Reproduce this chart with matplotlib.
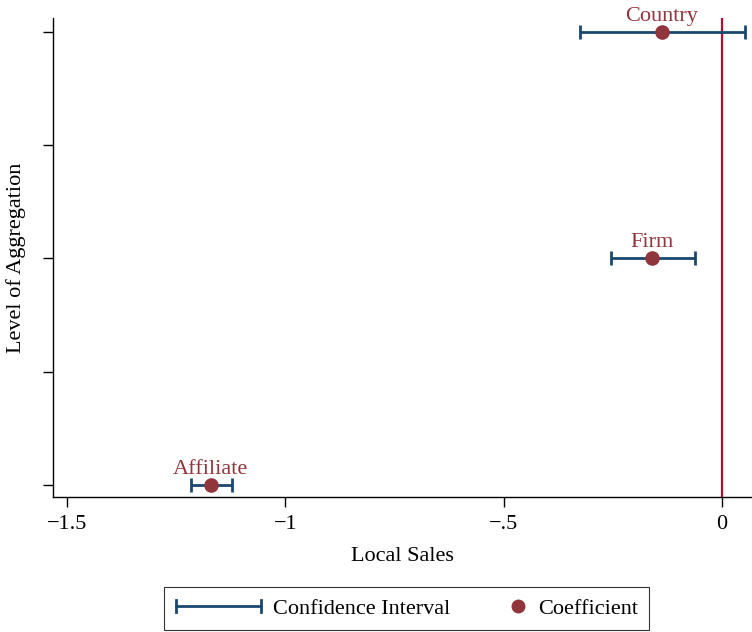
import numpy as np
import matplotlib.pyplot as plt
from matplotlib.lines import Line2D
from matplotlib.legend_handler import HandlerBase

plt.rcParams['font.family'] = ['Liberation Serif', 'DejaVu Serif']

levels = ['Affiliate', 'Firm', 'Country']
ypos = [1, 2, 3]
coef = [-1.171, -0.160, -0.137]
ci_lo = [-1.216, -0.254, -0.325]
ci_hi = [-1.123, -0.062, 0.053]

navy = '#1a476f'
maroon = '#90353b'
red = '#c10534'
fs = 16


class CIHandler(HandlerBase):
    def create_artists(self, legend, orig, xd, yd, w, h, fontsize, trans):
        y = h / 2 - yd
        c = 0.27 * fontsize
        arts = [Line2D([-xd, w - xd], [y, y], color=navy, lw=2)]
        for x in (-xd, w - xd):
            arts.append(Line2D([x, x], [y - c, y + c], color=navy, lw=2))
        for a in arts:
            a.set_transform(trans)
        return arts


class DotHandler(HandlerBase):
    def create_artists(self, legend, orig, xd, yd, w, h, fontsize, trans):
        x = w - xd - 0.35 * fontsize
        ln = Line2D([x], [h / 2 - yd], marker='o', ms=9, color=maroon, ls='none')
        ln.set_transform(trans)
        return [ln]


fig = plt.figure(figsize=(7.52, 6.32), dpi=100)
ax = fig.add_axes([0.0705, 0.2136, 0.9295, 0.758])

coef = np.array(coef)
xerr = [coef - np.array(ci_lo), np.array(ci_hi) - coef]
eb = ax.errorbar(coef, ypos, xerr=xerr, fmt='none', ecolor=navy, elinewidth=2,
                 capsize=5, capthick=2, zorder=2)
sc = ax.scatter(coef, ypos, s=90, color=maroon, zorder=3)
for x, y, t in zip(coef, ypos, levels):
    ax.annotate(t, (x, y), xytext=(0, 4.5), textcoords='offset points',
                ha='center', va='bottom', color=maroon, fontsize=fs)

ax.axvline(0, color=red, lw=1.6, zorder=1)

ax.set_xlim(-1.532, 0.069)
ax.set_ylim(0.947, 3.062)
ax.set_xticks([-1.5, -1, -0.5, 0])
ax.set_xticklabels(['\u22121.5', '\u22121', '\u2212.5', '0'])
ax.set_yticks([1, 1.5, 2, 2.5, 3])
ax.set_yticklabels([])
ax.tick_params(axis='both', length=7, width=1, labelsize=fs, colors='black')
ax.tick_params(axis='x', pad=6)
for s in ['top', 'right']:
    ax.spines[s].set_visible(False)
for s in ['left', 'bottom']:
    ax.spines[s].set_linewidth(1)

ax.set_xlabel('Local Sales', fontsize=fs, labelpad=9)
ax.set_ylabel('Level of Aggregation', fontsize=fs, labelpad=9)

h_ci = Line2D([], [])
h_dot = Line2D([], [], marker='o')
leg = fig.legend([h_ci, h_dot], ['Confidence Interval', 'Coefficient'],
                 handler_map={h_ci: CIHandler(), h_dot: DotHandler()},
                 loc='center', bbox_to_anchor=(0.541, 0.037), ncol=2,
                 fontsize=fs, frameon=True, fancybox=False, edgecolor='black',
                 handlelength=3.83, handletextpad=0.54, columnspacing=-0.4,
                 borderpad=0.5)
leg.get_frame().set_linewidth(0.8)

fig.savefig('out.png', dpi=100)
